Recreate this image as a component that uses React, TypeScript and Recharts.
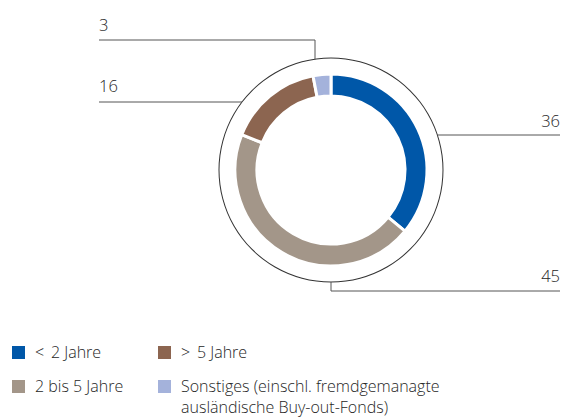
import React from "react";
import { PieChart, Pie, Cell, Legend } from "recharts";

const CATEGORIES = ["< 2 Jahre", "2 bis 5 Jahre", "> 5 Jahre", "Sonstiges"];
const VALUES = [36, 45, 16, 3];
const LEGEND_LABELS = [
  "<\u2009 2 Jahre",
  ">\u2009 5 Jahre",
  "2 bis 5 Jahre",
  "Sonstiges (einschl. fremdgemanagte\nausländische Buy-out-Fonds)",
];
const LEGEND_KEYS = ["< 2 Jahre", "> 5 Jahre", "2 bis 5 Jahre", "Sonstiges"];

const COLORS: Record<string, string> = {
  "< 2 Jahre": "#0057A8",
  "2 bis 5 Jahre": "#A39689",
  "> 5 Jahre": "#8C6550",
  Sonstiges: "#A4B2DB",
};

const TEXT = "#262626";
const LINE = "#555";
const FONT = "'Open Sans', 'Noto Sans', sans-serif";
const FRAME_R = 112;

const data = CATEGORIES.map((name, i) => ({ name, value: VALUES[i] }));
const frame = [{ name: "frame", value: 1 }];

// leader line layout per slice
const renderLabel = (props: any) => {
  const { cx, cy, index, value } = props;
  const onCircleX = (y: number, sign: number) =>
    cx + sign * Math.sqrt(FRAME_R * FRAME_R - (y - cy) * (y - cy));
  const onCircleY = (x: number, sign: number) =>
    cy + sign * Math.sqrt(FRAME_R * FRAME_R - (x - cx) * (x - cx));
  let path = "";
  let tx = 0;
  let ty = 0;
  let anchor: "start" | "end" = "start";
  if (index === 0) {
    const y = 135;
    path = `M${onCircleX(y, 1)},${y} L560,${y}`;
    tx = 560; ty = 127; anchor = "end";
  } else if (index === 1) {
    const y = 291;
    path = `M${cx},${onCircleY(cx, 1)} L${cx},${y} L560,${y}`;
    tx = 560; ty = 282; anchor = "end";
  } else if (index === 2) {
    const y = 102;
    path = `M99,${y} L${onCircleX(y, -1)},${y}`;
    tx = 99; ty = 92;
  } else {
    const x = 315;
    const y = 40;
    path = `M99,${y} L${x},${y} L${x},${onCircleY(x, -1)}`;
    tx = 99; ty = 31;
  }
  return (
    <g key={`lbl-${index}`}>
      <path d={path} stroke={LINE} strokeWidth={1} fill="none" />
      <text x={tx} y={ty} textAnchor={anchor} fill={TEXT} fontSize={16.5} fontWeight={300} fontFamily={FONT}>
        {value}
      </text>
    </g>
  );
};

const LegendContent = () => (
  <div style={{ position: "relative", width: 563, height: 80, fontFamily: FONT, fontSize: 16, fontWeight: 300, color: TEXT }}>
    {LEGEND_KEYS.map((k, i) => {
      const col = i % 2;
      const row = Math.floor(i / 2);
      const left = col === 0 ? 12 : 158;
      const top = row * 34;
      return (
        <div key={k} style={{ position: "absolute", left, top }}>
          <div style={{ position: "absolute", left: 0, top: 0, width: 13, height: 13, background: COLORS[k] }} />
          <div style={{ position: "absolute", left: 23, top: -4, whiteSpace: "pre", lineHeight: "21px" }}>
            {LEGEND_LABELS[i]}
          </div>
        </div>
      );
    })}
  </div>
);

export default function App() {
  return (
    <div style={{ position: "absolute", left: 0, top: 0, background: "#fff" }}>
      <PieChart width={563} height={419} margin={{ top: 0, right: 0, bottom: 0, left: 0 }}>
        <Pie
          data={frame}
          dataKey="value"
          cx={331}
          cy={170}
          innerRadius={FRAME_R - 0.5}
          outerRadius={FRAME_R + 0.5}
          startAngle={90}
          endAngle={-270}
          fill="#333"
          stroke="none"
          isAnimationActive={false}
          legendType="none"
        />
        <Pie
          data={data}
          dataKey="value"
          nameKey="name"
          cx={331}
          cy={170}
          innerRadius={74}
          outerRadius={96}
          startAngle={90}
          endAngle={-270}
          stroke="#fff"
          strokeWidth={3}
          label={renderLabel}
          labelLine={false}
          isAnimationActive={false}
        >
          {data.map((d) => (
            <Cell key={d.name} fill={COLORS[d.name]} />
          ))}
        </Pie>
        <Legend
          content={<LegendContent />}
          wrapperStyle={{ position: "absolute", left: 0, top: 346, width: 563, height: 80 }}
        />
      </PieChart>
    </div>
  );
}
